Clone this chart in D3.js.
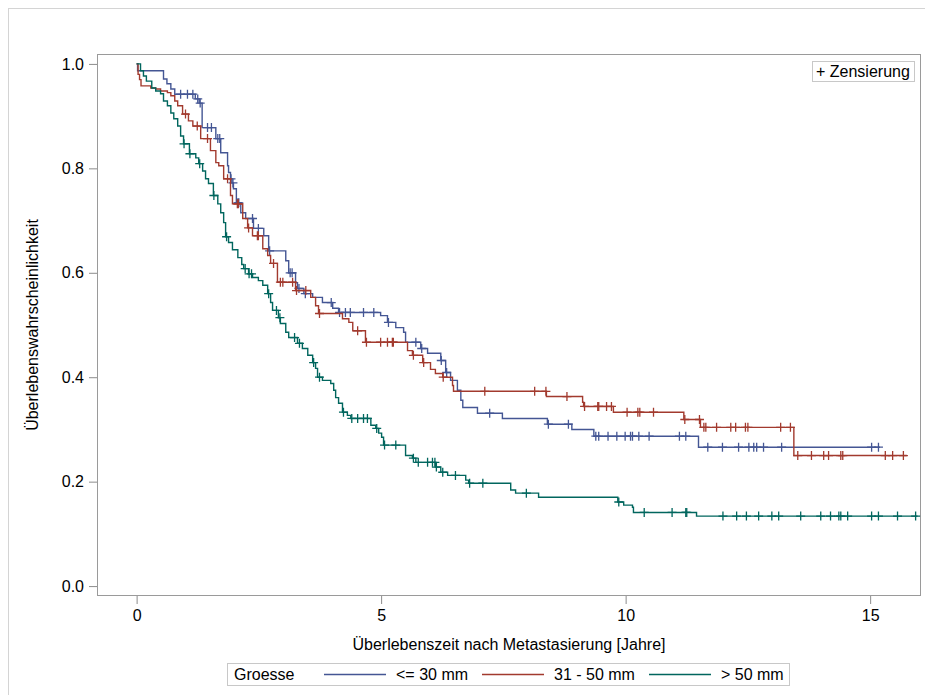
<!DOCTYPE html>
<html><head><meta charset="utf-8">
<script src="https://cdn.jsdelivr.net/npm/d3@7"></script>
<style>
html,body{margin:0;padding:0;background:#fff;}
text{font-family:"Liberation Sans",Arial,sans-serif;fill:#000;}
</style></head>
<body>
<svg id="c" width="925" height="695"></svg>
<script>
// ---- data ----
const groupNames = ["<= 30 mm", "31 - 50 mm", "> 50 mm"];
const groupColors = ["#445694", "#A23A2E", "#01665E"];
const xTicks = [0, 5, 10, 15];
const yTicks = [0.0, 0.2, 0.4, 0.6, 0.8, 1.0];

const le30Time = [0,0.02,0.55,0.62,0.70,0.78,1.20,1.28,1.34,1.62,1.72,1.86,1.88,1.92,1.95,1.98,2.04,2.13,2.23,2.39,2.60,2.70,3.05,3.11,3.25,3.29,3.42,3.60,3.80,4.01,4.13,4.99,5.13,5.30,5.46,5.50,5.81,5.95,6.22,6.32,6.42,6.56,6.63,6.67,6.97,7.48,8.40,8.90,9.35,11.49];
const le30Surv = [1.0,0.987,0.971,0.962,0.952,0.942,0.933,0.925,0.878,0.857,0.830,0.805,0.792,0.780,0.772,0.761,0.734,0.715,0.704,0.685,0.671,0.642,0.623,0.600,0.581,0.570,0.560,0.553,0.543,0.532,0.524,0.518,0.505,0.495,0.486,0.467,0.455,0.446,0.432,0.409,0.394,0.375,0.356,0.342,0.331,0.321,0.310,0.300,0.287,0.266];
const le30End = 15.2;
const le30Cens = [0.90,1.04,1.15,1.25,1.30,1.45,1.53,1.66,1.70,1.93,1.97,2.07,2.09,2.37,2.49,2.72,3.14,3.18,3.32,3.45,3.98,4.15,4.27,4.37,4.64,4.85,5.15,5.71,5.83,6.23,6.34,7.22,8.42,8.83,9.39,9.45,9.64,9.82,9.99,10.10,10.14,10.27,10.48,11.10,11.23,11.68,11.98,12.31,12.52,12.62,12.68,12.82,13.19,15.03,15.17];

const m3150Time = [0,0.03,0.06,0.09,0.29,0.39,0.49,0.63,0.70,0.78,0.84,0.94,1.06,1.15,1.31,1.51,1.62,1.68,1.78,1.92,1.96,2.17,2.27,2.37,2.58,2.68,2.74,2.88,3.25,3.56,3.66,3.72,4.21,4.34,4.42,4.68,5.54,5.64,5.85,6.01,6.11,6.26,6.46,6.48,8.38,9.12,9.14,9.75,11.19,11.53,13.44];
const m3150Surv = [1.0,0.98,0.97,0.958,0.954,0.952,0.948,0.945,0.939,0.929,0.920,0.904,0.891,0.881,0.857,0.834,0.811,0.805,0.780,0.748,0.732,0.704,0.686,0.671,0.646,0.633,0.618,0.582,0.566,0.553,0.537,0.522,0.512,0.505,0.489,0.467,0.451,0.442,0.428,0.415,0.407,0.400,0.384,0.373,0.363,0.352,0.344,0.333,0.319,0.304,0.250];
const m3150End = 15.75;
const m3150Cens = [1.00,1.24,1.45,1.86,2.06,2.08,2.29,2.47,2.49,2.80,2.94,2.99,3.19,3.27,3.46,3.74,4.52,4.70,4.99,5.13,5.23,5.25,5.66,5.87,6.27,7.12,8.14,8.37,8.80,9.16,9.43,9.45,9.61,9.71,10.03,10.25,10.29,10.57,11.21,11.51,11.60,11.64,11.86,12.15,12.25,12.45,12.50,13.17,13.37,13.52,13.80,14.05,14.15,14.40,14.44,15.31,15.46,15.68];

const gt50Time = [0,0.08,0.14,0.20,0.31,0.39,0.49,0.55,0.63,0.70,0.76,0.84,0.90,0.96,1.08,1.21,1.27,1.35,1.41,1.47,1.57,1.66,1.72,1.78,1.82,1.88,1.96,2.07,2.15,2.19,2.29,2.37,2.49,2.58,2.68,2.74,2.78,2.90,2.94,3.05,3.11,3.29,3.39,3.50,3.60,3.66,3.70,3.80,3.97,4.03,4.07,4.13,4.21,4.31,4.38,4.79,4.89,4.95,5.01,5.05,5.50,5.64,5.71,6.11,6.22,6.36,6.73,6.79,7.65,7.75,8.22,9.84,9.96,10.14,10.16,11.45];
const gt50Surv = [1.0,0.987,0.977,0.967,0.954,0.948,0.943,0.929,0.920,0.906,0.895,0.881,0.862,0.847,0.828,0.820,0.809,0.795,0.780,0.771,0.748,0.732,0.715,0.696,0.669,0.658,0.644,0.629,0.616,0.608,0.598,0.591,0.585,0.576,0.560,0.543,0.528,0.514,0.503,0.486,0.476,0.465,0.455,0.442,0.428,0.417,0.400,0.394,0.388,0.375,0.361,0.350,0.333,0.327,0.321,0.308,0.302,0.293,0.285,0.270,0.250,0.245,0.237,0.228,0.218,0.212,0.203,0.197,0.184,0.178,0.170,0.161,0.155,0.151,0.141,0.134];
const gt50End = 15.97;
const gt50Cens = [0.97,1.09,1.29,1.58,1.84,2.22,2.30,2.35,2.70,2.86,2.93,3.23,3.33,3.62,3.74,4.23,4.40,4.52,4.64,4.72,4.91,5.07,5.30,5.66,5.76,5.95,6.05,6.10,6.13,6.26,6.52,6.81,7.08,7.97,9.86,10.38,10.95,11.23,11.25,11.99,12.27,12.47,12.72,12.99,13.13,13.58,13.99,14.19,14.36,14.40,14.54,15.03,15.17,15.56,15.93];

const series = [
  {name: groupNames[0], color: groupColors[0], time: le30Time, surv: le30Surv, end: le30End, cens: le30Cens},
  {name: groupNames[1], color: groupColors[1], time: m3150Time, surv: m3150Surv, end: m3150End, cens: m3150Cens},
  {name: groupNames[2], color: groupColors[2], time: gt50Time, surv: gt50Surv, end: gt50End, cens: gt50Cens}
];

// ---- layout ----
const svg = d3.select("#c");
const L = 97, R = 921, T = 54, B = 596;
const x = d3.scaleLinear().domain([-0.81, 16.04]).range([L, R]);
const y = d3.scaleLinear().domain([-0.019, 1.019]).range([B, T]);
const FS = 16;

// outer frame
svg.append("rect").attr("x", 8.5).attr("y", 8.5).attr("width", 940).attr("height", 720)
  .attr("fill", "none").attr("stroke", "#d4d4d4").attr("stroke-width", 1);

// axes
const yAxis = svg.append("g").attr("transform", `translate(${L},0)`)
  .call(d3.axisLeft(y).tickValues(yTicks).tickFormat(d3.format(".1f")).tickSize(8).tickPadding(5));
const xAxis = svg.append("g").attr("transform", `translate(0,${B})`)
  .call(d3.axisBottom(x).tickValues(xTicks).tickFormat(d3.format("d")).tickSize(8).tickPadding(6));
[yAxis, xAxis].forEach(a => {
  a.select(".domain").remove();
  a.selectAll(".tick line").attr("stroke", "#8c8c8c");
  a.selectAll(".tick text").style("font-size", FS + "px").style("font-family", '"Liberation Sans",Arial,sans-serif').attr("fill", "#000");
});

// plot frame
svg.append("rect").attr("x", L + 0.5).attr("y", T + 0.5).attr("width", R - L - 1).attr("height", B - T - 1)
  .attr("fill", "none").attr("stroke", "#9a9a9a").attr("stroke-width", 1);

// axis titles
svg.append("text").attr("x", (L + R) / 2).attr("y", 650).attr("text-anchor", "middle")
  .style("font-size", FS + "px").text("Überlebenszeit nach Metastasierung [Jahre]");
svg.append("text").attr("transform", `translate(38,${(T + B) / 2}) rotate(-90)`).attr("text-anchor", "middle")
  .style("font-size", FS + "px").text("Überlebenswahrscheinlichkeit");

// curves
const line = d3.line().x(d => x(d[0])).y(d => y(d[1])).curve(d3.curveStepAfter);
const plot = svg.append("g");
series.forEach(s => {
  const pts = s.time.map((t, i) => [t, s.surv[i]]);
  pts.push([s.end, s.surv[s.surv.length - 1]]);
  plot.append("path").attr("d", line(pts)).attr("fill", "none")
    .attr("stroke", s.color).attr("stroke-width", 1.4);
  const survAt = t => { let v = s.surv[0]; for (let i = 0; i < s.time.length; i++) { if (s.time[i] <= t) v = s.surv[i]; } return v; };
  const h = 4.5;
  s.cens.forEach(c => {
    const cx = x(c), cy = y(survAt(c));
    plot.append("path").attr("d", `M${cx - h},${cy}H${cx + h}M${cx},${cy - h}V${cy + h}`)
      .attr("stroke", s.color).attr("stroke-width", 1.3).attr("fill", "none");
  });
});

// censoring legend (inside)
svg.append("rect").attr("x", 812.5).attr("y", 61.5).attr("width", 102).attr("height", 20)
  .attr("fill", "#fff").attr("stroke", "#c8c8c8");
svg.append("text").attr("x", 816).attr("y", 77).style("font-size", FS + "px").text("+ Zensierung");

// bottom legend
const lg = svg.append("g");
lg.append("rect").attr("x", 227.5).attr("y", 663.5).attr("width", 562).attr("height", 22)
  .attr("fill", "#fff").attr("stroke", "#c8c8c8");
lg.append("text").attr("x", 234).attr("y", 680).style("font-size", FS + "px").text("Groesse");
const lineX = [324, 482, 649];
series.forEach((s, i) => {
  lg.append("line").attr("x1", lineX[i]).attr("x2", lineX[i] + 62).attr("y1", 674.5).attr("y2", 674.5)
    .attr("stroke", s.color).attr("stroke-width", 1.4);
  lg.append("text").attr("x", lineX[i] + 72).attr("y", 680).style("font-size", FS + "px").text(s.name);
});
</script>
</body></html>
